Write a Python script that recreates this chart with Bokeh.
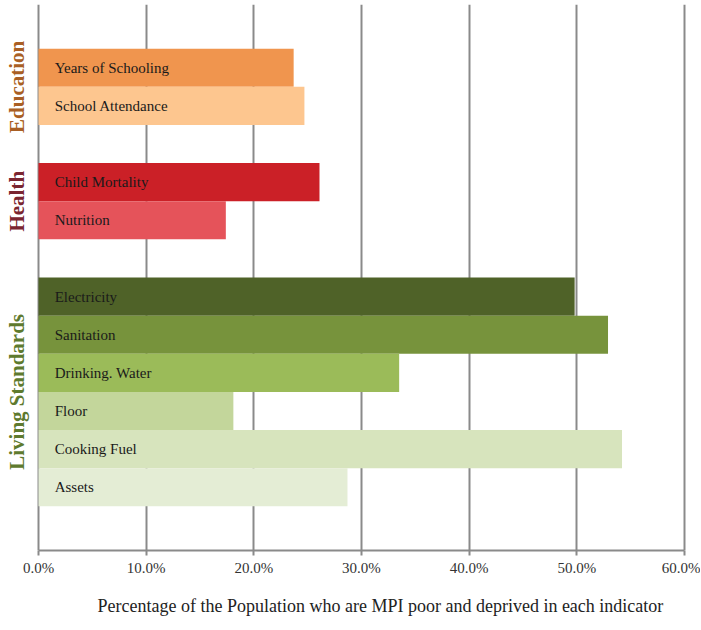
import math
from bokeh.plotting import figure
from bokeh.models import FactorRange, Range1d, NumeralTickFormatter, ColumnDataSource, Label, Title, FixedTicker
from bokeh.core.properties import value
from bokeh.embed import file_html
from bokeh.resources import INLINE

# ---- data (top to bottom as in the chart) ----
groups = ["Education", "Education", "Health", "Health",
          "Living Standards", "Living Standards", "Living Standards",
          "Living Standards", "Living Standards", "Living Standards"]
indicators = ["Years of Schooling", "School Attendance", "Child Mortality", "Nutrition",
              "Electricity", "Sanitation", "Drinking. Water", "Floor", "Cooking Fuel", "Assets"]
values_pct = [23.7, 24.7, 26.1, 17.4, 49.8, 52.9, 33.5, 18.1, 54.2, 28.7]
bar_colors = ["#F0954E", "#FDC68F", "#CB2027", "#E5535A",
              "#4F6228", "#77933C", "#9BBB59", "#C3D69B", "#D7E4BD", "#E4EDD5"]
group_names = ["Education", "Health", "Living Standards"]
group_colors = ["#A95F24", "#7A2530", "#5E7A2E"]
x_ticks = [0.0, 0.1, 0.2, 0.3, 0.4, 0.5, 0.6]
x_title = "Percentage of the Population who are MPI poor and deprived in each indicator"

SERIF = "Liberation Serif"
GROUP_PAD = 1.0

factors = [(g, i) for g, i in zip(groups, indicators)]
src = ColumnDataSource(dict(
    y=factors,
    v=[x / 100.0 for x in values_pct],
    c=bar_colors,
    t=indicators,
    lx=[0.015] * len(indicators),
))

bottom_up = list(reversed(factors))
y_range = FactorRange(factors=bottom_up, group_padding=GROUP_PAD,
                      factor_padding=0.0, range_padding=1.16,
                      range_padding_units="absolute")

# synthetic centre of each group (for the rotated group labels)
centres = {}
pos, prev = 0.0, None
for g, _ in bottom_up:
    if prev is not None and g != prev:
        pos += GROUP_PAD
    centres.setdefault(g, []).append(pos + 0.5)
    pos += 1.0
    prev = g

p = figure(width=700, height=630, y_range=y_range, x_range=Range1d(-0.0353, 0.6019),
           output_backend="svg", toolbar_location=None,
           min_border_left=0, min_border_right=14, min_border_top=4,
           min_border_bottom=0)
p.outline_line_color = None
p.background_fill_color = "white"

p.hbar(y="y", left=0, right="v", height=1.0, color="c", line_color=None, source=src)
p.text(x="lx", y="y", text="t", source=src, text_font=value(SERIF), text_font_size="15px",
       text_color="#1a1a1a", text_baseline="middle", text_align="left")

# axes
p.yaxis.visible = False
p.ygrid.grid_line_color = None
p.xgrid.grid_line_color = "#8a8a8a"
p.xgrid.grid_line_width = 2
p.xgrid.ticker = FixedTicker(ticks=x_ticks)
p.xaxis.ticker = FixedTicker(ticks=x_ticks)
p.xaxis.bounds = (x_ticks[0], x_ticks[-1])
p.xaxis.formatter = NumeralTickFormatter(format="0.0%")
p.xaxis.axis_line_color = "#8a8a8a"
p.xaxis.axis_line_width = 2
p.xaxis.major_tick_line_color = "#8a8a8a"
p.xaxis.major_tick_line_width = 2
p.xaxis.major_tick_in = 0
p.xaxis.major_tick_out = 5
p.xaxis.minor_tick_line_color = None
p.xaxis.major_label_text_font = SERIF
p.xaxis.major_label_text_font_size = "15px"
p.xaxis.major_label_text_color = "#333333"
p.xaxis.major_label_standoff = 4

t = Title(text=x_title, align="left", offset=97, standoff=30, text_font=SERIF,
          text_font_size="18px", text_font_style="normal", text_color="#222222")
p.add_layout(t, "below")

for g, col in zip(group_names, group_colors):
    yc = sum(centres[g]) / len(centres[g])
    p.add_layout(Label(x=-0.0204, y=yc, text=g, angle=math.pi / 2,
                       text_align="center", text_baseline="middle",
                       text_font=SERIF, text_font_size="21px",
                       text_font_style="bold", text_color=col))

open("out.html", "w").write(file_html(p, INLINE))
